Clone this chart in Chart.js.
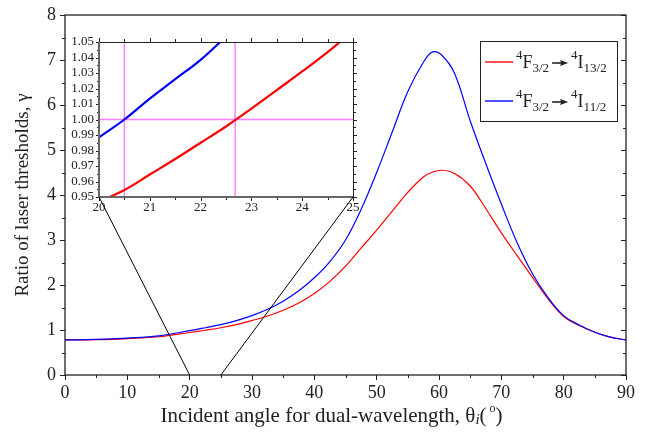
<!DOCTYPE html>
<html>
<head>
<meta charset="utf-8">
<script src="https://cdn.jsdelivr.net/npm/chart.js@4.4.0/dist/chart.umd.min.js"></script>
<style>
  html, body { margin: 0; padding: 0; background: #fff; }
  #wrap { position: relative; width: 647px; height: 434px; }
  #wrap canvas { position: absolute; left: 0; top: 0; }
</style>
</head>
<body>
<div id="wrap">
  <canvas id="mainChart" width="647" height="434"></canvas>
  <canvas id="zoomChart" width="647" height="434"></canvas>
</div>
<script>
// Threshold ratio vs incident angle, two Nd transitions
const angles = [0, 5, 10, 15, 20, 22.5, 25, 27.5, 30, 32.5, 35, 37.5, 40, 42.5, 45, 47.5, 50, 52.5,
                55, 57.5, 59, 60.5, 62.5, 65, 67.5, 70, 72.5, 75, 77.5, 80, 82.5, 85, 87.5, 90];
const gammaI13 = [0.78, 0.785, 0.81, 0.85, 0.945, 0.995, 1.05, 1.12, 1.21, 1.31, 1.44, 1.60, 1.81, 2.08, 2.42, 2.82, 3.22, 3.64,
                  4.06, 4.4, 4.51, 4.55, 4.48, 4.2, 3.7, 3.16, 2.66, 2.17, 1.69, 1.3, 1.10, 0.95, 0.84, 0.78];
const gammaI11 = [0.78, 0.79, 0.82, 0.87, 0.985, 1.05, 1.12, 1.21, 1.32, 1.46, 1.64, 1.87, 2.16, 2.52, 3.0, 3.68, 4.5, 5.4,
                  6.3, 6.95, 7.18, 7.1, 6.7, 5.65, 4.7, 3.8, 2.95, 2.25, 1.72, 1.32, 1.11, 0.95, 0.84, 0.78];

// zoomed window around gamma = 1
const zoomAnglesI13 = [20, 20.5, 21, 21.5, 22, 22.5, 23, 23.5, 24, 24.5, 25];
const zoomGammaI13 = [0.947, 0.9545, 0.9645, 0.9745, 0.985, 0.9955, 1.007, 1.019, 1.031, 1.0435, 1.057];
const zoomAnglesI11 = [20, 20.5, 21, 21.5, 22, 22.5];
const zoomGammaI11 = [0.9885, 1.0, 1.0135, 1.026, 1.0385, 1.0535];
const unityAngles = [20.5, 22.68];   // where each ratio crosses 1
const unityLevel = 1.0;
const zoomRangeX = [20, 25];
const zoomRangeY = [0.95, 1.05];

// legend text pieces: sup, level, sub -> sup, level, sub
const legendColors = ['#ff5050', '#5050ff'];
const legendLevels = [
  ['4', 'F', '3/2', '4', 'I', '13/2'],
  ['4', 'F', '3/2', '4', 'I', '11/2']
];

const serif = '"Liberation Serif", "DejaVu Serif", serif';
const ink = '#222';

function toPoints(xs, ys) {
  return xs.map((x, i) => ({ x: x, y: ys[i] }));
}

function drawTransition(ctx, x, y, parts) {
  const big = '18px ' + serif, small = '13px ' + serif;
  ctx.textBaseline = 'alphabetic';
  ctx.textAlign = 'left';
  const piece = (txt, font, dy) => {
    ctx.font = font;
    ctx.fillText(txt, x, y + dy);
    x += ctx.measureText(txt).width;
  };
  piece(parts[0], small, -9);
  piece(parts[1], big, 0);
  piece(parts[2], small, 4);
  // arrow
  const ay = y - 5;
  ctx.beginPath();
  ctx.moveTo(x + 3, ay);
  ctx.lineTo(x + 13, ay);
  ctx.lineWidth = 1.6;
  ctx.stroke();
  ctx.beginPath();
  ctx.moveTo(x + 19, ay);
  ctx.lineTo(x + 11, ay - 3);
  ctx.lineTo(x + 12, ay);
  ctx.lineTo(x + 11, ay + 3);
  ctx.closePath();
  ctx.fill();
  x += 22;
  piece(parts[3], small, -9);
  piece(parts[4], big, 0);
  piece(parts[5], small, 4);
}

// frame, minor ticks, legend and the x-axis title
const mainDecor = {
  id: 'mainDecor',
  afterDraw(chart) {
    const { ctx, chartArea: a, scales: { x, y } } = chart;
    ctx.save();
    ctx.strokeStyle = ink;
    ctx.fillStyle = ink;
    ctx.lineWidth = 1.3;
    ctx.strokeRect(a.left, a.top, a.right - a.left, a.bottom - a.top);

    ctx.lineWidth = 1;
    ctx.beginPath();
    for (let v = x.min + 5; v < x.max; v += 10) {
      const px = Math.round(x.getPixelForValue(v)) + 0.5;
      ctx.moveTo(px, a.bottom);
      ctx.lineTo(px, a.bottom + 3);
    }
    for (let v = y.min; v <= y.max; v += 0.5) {
      const py = Math.round(y.getPixelForValue(v)) + 0.5;
      const major = Number.isInteger(v);
      if (!major) {
        ctx.moveTo(a.left, py);
        ctx.lineTo(a.left - 3, py);
      }
      ctx.moveTo(a.right, py);
      ctx.lineTo(a.right - (major ? 5 : 3), py);
    }
    ctx.stroke();

    // legend box
    ctx.lineWidth = 1;
    ctx.strokeRect(480.5, 41.5, 137, 80);
    legendLevels.forEach((parts, i) => {
      const ly = 62 + i * 39;
      ctx.strokeStyle = legendColors[i];
      ctx.lineWidth = 2;
      ctx.beginPath();
      ctx.moveTo(485, ly);
      ctx.lineTo(513, ly);
      ctx.stroke();
      ctx.strokeStyle = ink;
      drawTransition(ctx, 516, ly + 6, parts);
    });

    // x title with italic subscript and degree mark
    const bx = 422;
    const segs = [
      ['Incident angle for dual-wavelength, \u03b8', '21px ' + serif, 0],
      ['i', 'italic 15px ' + serif, 2],
      ['(', '21px ' + serif, 0],
      [' o', '12px ' + serif, -10],
      [')', '21px ' + serif, 0]
    ];
    let w = 0;
    segs.forEach(s => { ctx.font = s[1]; w += ctx.measureText(s[0]).width; });
    let tx = (a.left + a.right) / 2 - w / 2 - 14;
    ctx.textAlign = 'left';
    ctx.textBaseline = 'alphabetic';
    segs.forEach(s => {
      ctx.font = s[1];
      ctx.fillText(s[0], tx, bx + s[2]);
      tx += ctx.measureText(s[0]).width;
    });
    ctx.restore();
  }
};

const mainChart = new Chart(document.getElementById('mainChart'), {
  type: 'line',
  data: {
    datasets: [
      {
        data: toPoints(angles, gammaI11),
        borderColor: '#0000ff',
        borderWidth: 1.2,
        pointRadius: 0,
        fill: false,
        tension: 0.4
      },
      {
        data: toPoints(angles, gammaI13),
        borderColor: '#ff0000',
        borderWidth: 1.2,
        pointRadius: 0,
        fill: false,
        tension: 0.4
      }
    ]
  },
  options: {
    responsive: false,
    animation: false,
    events: [],
    layout: { padding: { top: 15, right: 21, left: 0, bottom: 0 } },
    plugins: { legend: { display: false }, tooltip: { enabled: false } },
    scales: {
      x: {
        type: 'linear',
        min: 0,
        max: 90,
        ticks: { stepSize: 10, color: ink, font: { family: serif, size: 18 }, padding: 2, maxRotation: 0 },
        grid: { drawOnChartArea: false, tickLength: 5, color: ink, lineWidth: 1 },
        border: { display: false },
        afterFit: s => { s.height = 59; }
      },
      y: {
        min: 0,
        max: 8,
        ticks: { stepSize: 1, color: ink, font: { family: serif, size: 18 }, padding: 4 },
        grid: { drawOnChartArea: false, tickLength: 5, color: ink, lineWidth: 1 },
        border: { display: false },
        title: {
          display: true,
          text: 'Ratio of laser thresholds, \u03b3',
          color: ink,
          font: { family: serif, size: 19 },
          padding: { top: 12 }
        },
        afterFit: s => { s.width = 65; }
      }
    }
  },
  plugins: [mainDecor]
});

// inset: white ground, frame, ticks and lines back to the main axis
const zoomDecor = {
  id: 'zoomDecor',
  beforeDraw(chart) {
    const { ctx, chartArea: a } = chart;
    ctx.save();
    ctx.fillStyle = '#fff';
    ctx.fillRect(a.left, a.top, a.right - a.left, a.bottom - a.top);
    ctx.restore();
  },
  afterDraw(chart) {
    const { ctx, chartArea: a, scales: { x, y } } = chart;
    ctx.save();
    ctx.strokeStyle = ink;
    ctx.lineWidth = 1;
    ctx.beginPath();
    for (let v = x.min; v <= x.max + 1e-9; v += 0.5) {
      const px = Math.round(x.getPixelForValue(v)) + 0.5;
      const len = Number.isInteger(v) ? 4 : 3;
      ctx.moveTo(px, a.top);
      ctx.lineTo(px, a.top - len);
      ctx.moveTo(px, a.bottom);
      ctx.lineTo(px, a.bottom + len);
    }
    for (let i = 0; i <= 20; i++) {
      const v = y.min + i * 0.005;
      const py = Math.round(y.getPixelForValue(v)) + 0.5;
      const len = i % 2 === 0 ? 4 : 3;
      ctx.moveTo(a.right, py);
      ctx.lineTo(a.right + len, py);
      ctx.moveTo(a.left, py);
      ctx.lineTo(a.left - (i % 2 === 0 ? 3 : 2), py);
    }
    ctx.stroke();

    ctx.lineWidth = 1;
    ctx.strokeRect(a.left + 0.5, a.top + 0.5, a.right - a.left, a.bottom - a.top);
    ctx.strokeStyle = '#666';
    ctx.lineWidth = 2;
    ctx.beginPath();
    ctx.moveTo(a.left, a.top);
    ctx.lineTo(a.left, a.bottom);
    ctx.lineTo(a.right, a.bottom);
    ctx.stroke();

    // connectors to the zoomed span on the main x axis
    const mx = mainChart.scales.x, my = mainChart.scales.y;
    const base = my.getPixelForValue(my.min);
    ctx.strokeStyle = '#000';
    ctx.lineWidth = 1;
    ctx.beginPath();
    ctx.moveTo(a.left, a.bottom);
    ctx.lineTo(mx.getPixelForValue(x.min), base);
    ctx.moveTo(a.right, a.bottom);
    ctx.lineTo(mx.getPixelForValue(x.max), base);
    ctx.stroke();
    ctx.restore();
  }
};

const pink = '#ff80ff';
new Chart(document.getElementById('zoomChart'), {
  type: 'line',
  data: {
    datasets: [
      {
        data: toPoints(zoomAnglesI11, zoomGammaI11),
        borderColor: '#0000ff',
        borderWidth: 2.2,
        pointRadius: 0,
        tension: 0.4,
        order: 0
      },
      {
        data: toPoints(zoomAnglesI13, zoomGammaI13),
        borderColor: '#ff0000',
        borderWidth: 2.2,
        pointRadius: 0,
        tension: 0.4,
        order: 0
      },
      {
        data: [{ x: zoomRangeX[0], y: unityLevel }, { x: zoomRangeX[1], y: unityLevel }],
        borderColor: pink,
        borderWidth: 1.5,
        pointRadius: 0,
        order: 1
      },
      ...unityAngles.map(ang => ({
        data: [{ x: ang, y: zoomRangeY[0] }, { x: ang, y: zoomRangeY[1] }],
        borderColor: pink,
        borderWidth: 1.5,
        pointRadius: 0,
        order: 1
      }))
    ]
  },
  options: {
    responsive: false,
    animation: false,
    events: [],
    layout: { padding: { left: 99 - 32, top: 42, right: 647 - 353, bottom: 434 - 197 - 20 } },
    plugins: { legend: { display: false }, tooltip: { enabled: false } },
    scales: {
      x: {
        type: 'linear',
        min: zoomRangeX[0],
        max: zoomRangeX[1],
        ticks: { stepSize: 1, color: ink, font: { family: serif, size: 13 }, padding: 0, maxRotation: 0 },
        grid: { display: false, drawTicks: true, tickLength: 3 },
        border: { display: false },
        afterFit: s => { s.height = 20; }
      },
      y: {
        min: zoomRangeY[0],
        max: zoomRangeY[1],
        ticks: {
          stepSize: 0.01,
          autoSkip: false,
          color: ink,
          font: { family: serif, size: 13 },
          padding: 2,
          callback: v => v.toFixed(2)
        },
        grid: { display: false, drawTicks: true, tickLength: 3 },
        border: { display: false },
        afterFit: s => { s.width = 32; }
      }
    }
  },
  plugins: [zoomDecor]
});
</script>
</body>
</html>
